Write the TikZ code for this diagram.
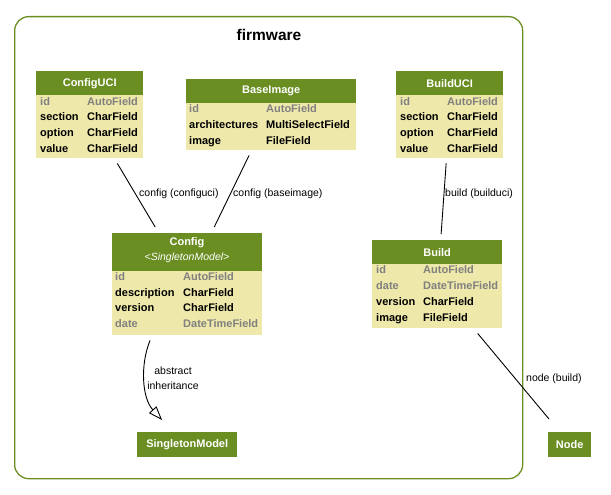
\documentclass[tikz,border=0pt]{standalone}
\usepackage{fontspec}
\setmainfont{Liberation Sans}
\usetikzlibrary{calc,arrows.meta}
\definecolor{hdgreen}{RGB}{107,142,35}
\definecolor{bodyyel}{RGB}{238,232,170}
\definecolor{fgrey}{RGB}{128,128,128}
\tikzset{
  tbody/.style={fill=bodyyel, draw=none, inner sep=0pt, anchor=north west},
  thead/.style={fill=hdgreen, draw=none, inner sep=0pt, anchor=north west,
    text=white, font=\fontsize{11}{12}\selectfont\bfseries, align=center},
  fld/.style={anchor=west, inner sep=0pt, text height=9.5pt, text depth=2pt,
    font=\fontsize{11}{12}\selectfont\bfseries, text=black},
  gfld/.style={fld, text=fgrey},
  elabel/.style={anchor=west, inner sep=0pt, font=\fontsize{10.5}{12}\selectfont},
  conn/.style={draw=black, line width=0.9pt},
  solo/.style={fill=hdgreen, draw=none, inner sep=0pt, text=white,
    font=\fontsize{11}{12}\selectfont\bfseries, anchor=north west},
}
\begin{document}
\begin{tikzpicture}[x=1pt,y=-1pt]
\useasboundingbox (0,0) rectangle (611,495);
% cluster
\node[draw=hdgreen, line width=1.3pt, rounded corners=14pt, minimum width=508, minimum height=462, inner sep=0pt, anchor=north west] (firmware) at (14,16) {};
\node[font=\fontsize{15.5}{18}\selectfont\bfseries, inner sep=0pt] (firmwaretitle) at (269,35) {firmware};

% ConfigUCI
\node[tbody, minimum width=107, minimum height=87] (configuci) at (36,71) {};
\node[thead, minimum width=107, minimum height=24] (configucih) at (36,71) {ConfigUCI};
\node[gfld] (cu1a) at (40,102) {id};      \node[gfld] (cu1b) at (87,102) {AutoField};
\node[fld]  (cu2a) at (40,117) {section}; \node[fld]  (cu2b) at (87,117) {CharField};
\node[fld]  (cu3a) at (40,133) {option};  \node[fld]  (cu3b) at (87,133) {CharField};
\node[fld]  (cu4a) at (40,149) {value};   \node[fld]  (cu4b) at (87,149) {CharField};

% BaseImage
\node[tbody, minimum width=170, minimum height=71] (baseimage) at (186,79) {};
\node[thead, minimum width=170, minimum height=24] (baseimageh) at (186,79) {BaseImage};
\node[gfld] (bi1a) at (189,109) {id};            \node[gfld] (bi1b) at (266,109) {AutoField};
\node[fld]  (bi2a) at (189,125) {architectures}; \node[fld]  (bi2b) at (266,125) {MultiSelectField};
\node[fld]  (bi3a) at (189,141) {image};         \node[fld]  (bi3b) at (266,141) {FileField};

% BuildUCI
\node[tbody, minimum width=107, minimum height=87] (builduci) at (396,71) {};
\node[thead, minimum width=107, minimum height=24] (builducih) at (396,71) {BuildUCI};
\node[gfld] (bu1a) at (400,102) {id};      \node[gfld] (bu1b) at (447,102) {AutoField};
\node[fld]  (bu2a) at (400,117) {section}; \node[fld]  (bu2b) at (447,117) {CharField};
\node[fld]  (bu3a) at (400,133) {option};  \node[fld]  (bu3b) at (447,133) {CharField};
\node[fld]  (bu4a) at (400,149) {value};   \node[fld]  (bu4b) at (447,149) {CharField};

% Config
\node[tbody, minimum width=150, minimum height=102] (config) at (112,233) {};
\node[thead, minimum width=150, minimum height=38] (configh) at (112,233) {};
\node[inner sep=0pt, text=white, font=\fontsize{11}{12}\selectfont\bfseries] (configt) at (187,243) {Config};
\node[inner sep=0pt, text=white, font=\fontsize{10.5}{12}\selectfont\itshape] (configst) at (187,258) {<SingletonModel>};
\node[gfld] (c1a) at (115,277) {id};          \node[gfld] (c1b) at (183,277) {AutoField};
\node[fld]  (c2a) at (115,293) {description}; \node[fld]  (c2b) at (183,293) {CharField};
\node[fld]  (c3a) at (115,308) {version};     \node[fld]  (c3b) at (183,308) {CharField};
\node[gfld] (c4a) at (115,324) {date};        \node[gfld] (c4b) at (183,324) {DateTimeField};

% Build
\node[tbody, minimum width=130, minimum height=88] (build) at (372,240) {};
\node[thead, minimum width=130, minimum height=24] (buildh) at (372,240) {Build};
\node[gfld] (b1a) at (376,270) {id};      \node[gfld] (b1b) at (423,270) {AutoField};
\node[gfld] (b2a) at (376,286) {date};    \node[gfld] (b2b) at (423,286) {DateTimeField};
\node[fld]  (b3a) at (376,302) {version}; \node[fld]  (b3b) at (423,302) {CharField};
\node[fld]  (b4a) at (376,318) {image};   \node[fld]  (b4b) at (423,318) {FileField};

% SingletonModel and Node
\node[solo, minimum width=100, minimum height=25] (singleton) at (137,432) {SingletonModel};
\node[solo, minimum width=43, minimum height=25] (nodebox) at (548,432) {Node};

% connectors
\draw[conn] ($(configuci.south west)!0.757!(configuci.south east)+(0,5)$) -- ($(config.north west)!0.287!(config.north east)+(0,-6)$);
\draw[conn] ($(baseimage.south west)!0.37!(baseimage.south east)+(0,5)$) -- ($(config.north west)!0.68!(config.north east)+(0,-6)$);
\draw[conn] ($(builduci.south west)!0.467!(builduci.south east)+(0,5)$) -- ($(build.north west)!0.53!(build.north east)+(0,-6)$);
\draw[conn] ($(build.south west)!0.81!(build.south east)+(0,5)$) -- ($(nodebox.north west)+(1,-13)$);
\draw[conn, -{Triangle[open, length=14pt, width=10pt]}]
  ($(config.south west)!0.253!(config.south east)+(0,5)$) .. controls (140,365) and (142,398) .. ($(singleton.north west)!0.25!(singleton.north east)+(0,-12)$);

% labels
\node[elabel] (l1) at (139,194) {config (configuci)};
\node[elabel] (l2) at (233,194) {config (baseimage)};
\node[elabel] (l3) at (445,194) {build (builduci)};
\node[elabel] (l4) at (526,379) {node (build)};
\node[inner sep=0pt, align=center, font=\fontsize{10.5}{15}\selectfont] (l5) at (173,378) {abstract\\inheritance};
\end{tikzpicture}
\end{document}
